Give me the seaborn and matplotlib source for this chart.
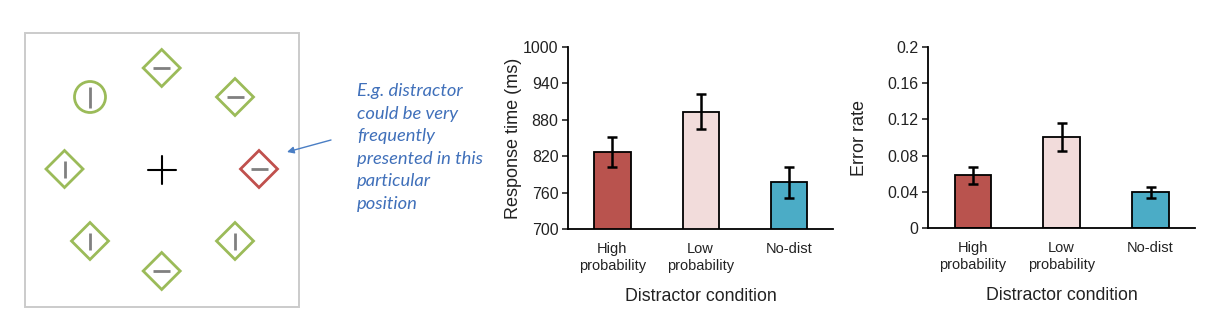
import matplotlib
matplotlib.use("Agg")
import matplotlib.pyplot as plt
import seaborn as sns
import pandas as pd
from matplotlib.patches import Polygon, Circle, Rectangle

# ---------------- data ----------------
conditions = ["High\nprobability", "Low\nprobability", "No-dist"]
rt_means = [827, 893, 777]
rt_errs = [25, 29, 25]
err_means = [0.0585, 0.101, 0.0395]
err_errs = [0.0092, 0.0155, 0.0062]
bar_colors = ["#B9534E", "#F2DCDB", "#4BACC6"]
rt_ticks = [700, 760, 820, 880, 940, 1000]
er_ticks = [0, 0.04, 0.08, 0.12, 0.16, 0.2]
er_ticklabels = ["0", "0.04", "0.08", "0.12", "0.16", "0.2"]
note_lines = ["E.g. distractor", "could be very", "frequently",
              "presented in this", "particular", "position"]

# search display items: (x, y, shape, inner line orientation, color)
items = [
    (161.7, 68, "diamond", "h", "green"),
    (90, 97, "circle", "v", "green"),
    (235, 97, "diamond", "h", "green"),
    (64.5, 169, "diamond", "v", "green"),
    (259, 169, "diamond", "h", "red"),
    (90, 241, "diamond", "v", "green"),
    (235, 241, "diamond", "v", "green"),
    (161.7, 271, "diamond", "h", "green"),
]

sns.set_theme(style="ticks")
plt.rcParams["font.family"] = ["Liberation Sans", "DejaVu Sans"]

W, H = 1214, 330
fig = plt.figure(figsize=(W / 100, H / 100), dpi=100)

# ---------------- illustration overlay (pixel coordinates) ----------------
ax0 = fig.add_axes([0, 0, 1, 1], zorder=0)
ax0.set_xlim(0, W)
ax0.set_ylim(H, 0)
ax0.axis("off")
ax0.patch.set_alpha(0)

ax0.add_patch(Rectangle((24.5, 32.5), 274, 274, fill=False, edgecolor="#CBCBCB", lw=1.4))

green = "#9BBB59"
red = "#C0504D"
grey = "#808080"
d = 18.5
for (cx, cy, shape, ori, col) in items:
    c = green if col == "green" else red
    if shape == "diamond":
        ax0.add_patch(Polygon([(cx, cy - d), (cx + d, cy), (cx, cy + d), (cx - d, cy)],
                              closed=True, fill=False, edgecolor=c, lw=2.0, joinstyle="miter"))
        L = 8.5
    else:
        ax0.add_patch(Circle((cx, cy), 15.5, fill=False, edgecolor=c, lw=2.0))
        L = 10.5
    if ori == "h":
        ax0.plot([cx - L, cx + L], [cy, cy], color=grey, lw=2.0, solid_capstyle="butt")
    else:
        ax0.plot([cx, cx], [cy - L, cy + L], color=grey, lw=2.0, solid_capstyle="butt")

# fixation cross
ax0.plot([148, 175.5], [170, 170], color="black", lw=1.5)
ax0.plot([161.7, 161.7], [156, 184], color="black", lw=1.5)

# arrow
ax0.annotate("", xy=(287, 152), xytext=(331, 140),
             arrowprops=dict(arrowstyle="-|>", color="#4A7EC4", lw=1.0,
                             mutation_scale=10, shrinkA=0, shrinkB=0))

for i, line in enumerate(note_lines):
    ax0.text(357, 96 + i * 22.6, line, fontsize=13.2, style="italic",
             family=["Lato", "DejaVu Sans"], color="#4070BA", va="baseline", ha="left")

# ---------------- bar charts ----------------
def bar_panel(rect, means, errs, ticks, ticklabels, ylabel, ylim, ylabelpad):
    ax = fig.add_axes(rect, zorder=1)
    df = pd.DataFrame({"cond": conditions, "val": means})
    sns.barplot(data=df, x="cond", y="val", hue="cond", palette=bar_colors,
                saturation=1, legend=False, width=0.41, edgecolor="black",
                linewidth=1.3, errorbar=None, ax=ax)
    ax.errorbar(x=list(range(len(means))), y=means, yerr=errs, fmt="none",
                ecolor="black", elinewidth=1.8, capsize=3.4, capthick=1.8, zorder=5)
    ax.set_xlim(-0.5, 2.5)
    ax.set_ylim(*ylim)
    ax.set_yticks(ticks)
    ax.set_yticklabels(ticklabels, fontsize=11.5, color="#222222")
    ax.tick_params(axis="y", direction="out", length=4, width=1.2, pad=3)
    ax.tick_params(axis="x", length=0, pad=9, labelsize=10.5, labelcolor="#222222")
    for lab in ax.get_xticklabels():
        lab.set_linespacing(1.3)
    ax.set_xlabel("Distractor condition", fontsize=12.8, labelpad=11, color="#222222")
    ax.set_ylabel(ylabel, fontsize=13, labelpad=ylabelpad, color="#222222")
    sns.despine(ax=ax)
    for s in ["left", "bottom"]:
        ax.spines[s].set_linewidth(1.3)
        ax.spines[s].set_color("black")
    ax.patch.set_alpha(0)
    return ax

bar_panel([568.3 / W, 1 - 229.3 / H, (833 - 568.3) / W, (229.3 - 46.7) / H],
          rt_means, rt_errs, rt_ticks, [str(t) for t in rt_ticks],
          "Response time (ms)", (700, 1000), 1)
bar_panel([928.3 / W, 1 - 228.3 / H, (1195 - 928.3) / W, (228.3 - 46.7) / H],
          err_means, err_errs, er_ticks, er_ticklabels,
          "Error rate", (0, 0.2), 14)

fig.savefig("out.png", dpi=100, facecolor="white")
